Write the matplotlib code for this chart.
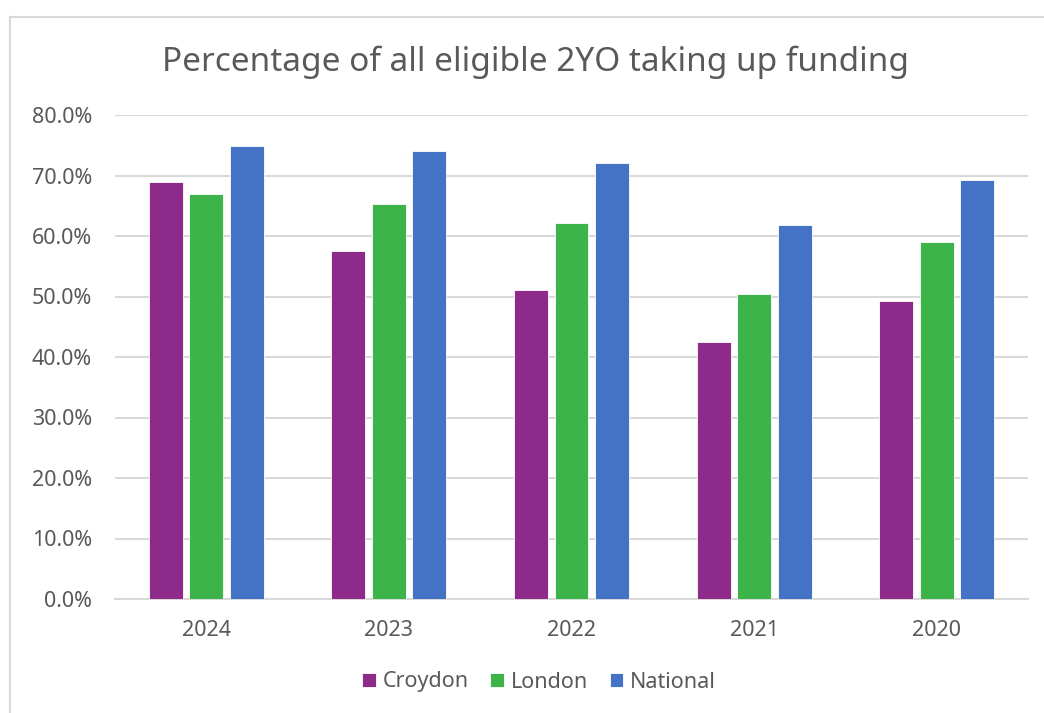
import matplotlib
matplotlib.use("Agg")
import matplotlib.pyplot as plt
import numpy as np
from matplotlib.lines import Line2D

years = ["2024", "2023", "2022", "2021", "2020"]
croydon = [68.9, 57.6, 51.1, 42.4, 49.3]
london = [67.0, 65.3, 62.1, 50.4, 59.0]
national = [74.9, 74.0, 72.0, 61.9, 69.3]
series_names = ["Croydon", "London", "National"]
colors = ["#8E2A8A", "#3CB44A", "#4472C4"]
yticks = [0, 10, 20, 30, 40, 50, 60, 70, 80]

W, H = 1044, 713
fig = plt.figure(figsize=(W / 100, H / 100), dpi=100)
plt.rcParams['font.family'] = ['Noto Sans', 'DejaVu Sans']

ax = fig.add_axes([115 / W, 1 - 599 / H, (1028 - 115) / W, (599 - 115) / H])
x = np.arange(len(years))
bw = 0.186
step = 0.222
for i, (vals, c, name) in enumerate(zip([croydon, london, national], colors, series_names)):
    ax.bar(x + (i - 1) * step, vals, width=bw, color=c, edgecolor="white",
           linewidth=0.6, label=name, zorder=3)

ax.set_xlim(-0.5, len(years) - 0.5)
ax.set_ylim(0, 80)
ax.set_yticks(yticks)
ax.set_yticklabels([f"{v:.1f}%" for v in yticks], fontsize=15.5, color="#595959")
ax.set_xticks(x)
ax.set_xticklabels(years, fontsize=15.5, color="#595959")
ax.tick_params(axis="both", length=0)
ax.tick_params(axis="y", pad=16.5)
ax.tick_params(axis="x", pad=15)
ax.grid(axis="y", color="#D9D9D9", linewidth=1.5, zorder=0)
for s in ["top", "right", "left"]:
    ax.spines[s].set_visible(False)
ax.spines["bottom"].set_color("#D9D9D9")
ax.spines["bottom"].set_linewidth(1.5)

fig.text(535 / W, 1 - 62 / H, "Percentage of all eligible 2YO taking up funding",
         ha="center", va="center", fontsize=24, color="#595959")

leg = fig.legend(loc="center", bbox_to_anchor=(539 / W, 1 - 682 / H), ncol=3,
                 frameon=False, fontsize=15.5, handlelength=0.65, handleheight=0.65,
                 handletextpad=0.3, columnspacing=1.0)
for t in leg.get_texts():
    t.set_color("#595959")

# chart border
fig.add_artist(Line2D([10 / W, 1.0], [1 - 16.5 / H, 1 - 16.5 / H], color="#D9D9D9", linewidth=1.5))
fig.add_artist(Line2D([10 / W, 10 / W], [1 - 16.5 / H, 0], color="#D9D9D9", linewidth=1.5))

fig.savefig("out.png", dpi=100, facecolor="white")
